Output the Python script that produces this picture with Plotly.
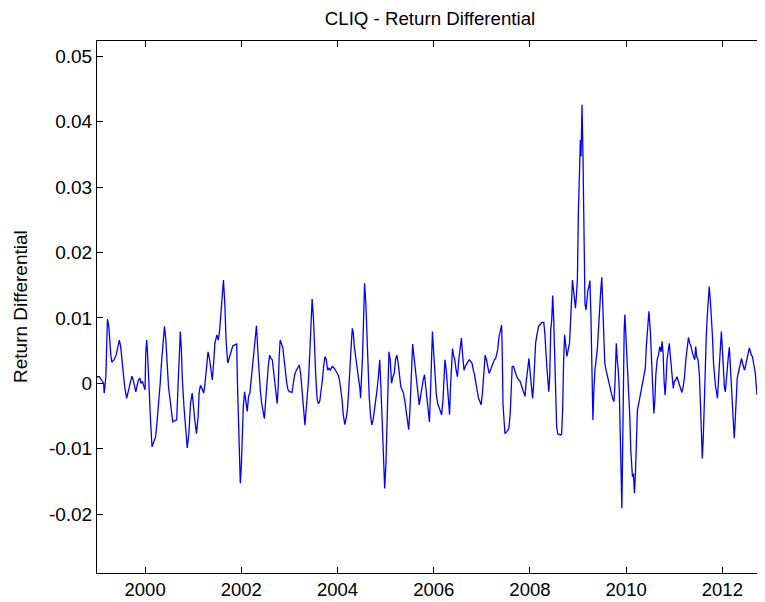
import plotly.graph_objects as go

# Fractional-year dates of the traced vertices and the return differential values
years = [
 1999.000,1999.047,1999.095,1999.136,1999.150,1999.184,1999.205,1999.218,1999.246,1999.260,
 1999.287,1999.308,1999.355,1999.397,1999.438,1999.465,1999.492,1999.520,1999.547,1999.575,
 1999.616,1999.657,1999.698,1999.725,1999.753,1999.780,1999.807,1999.835,1999.862,1999.890,
 1999.917,1999.944,1999.972,1999.999,2000.013,2000.034,2000.054,2000.081,2000.109,2000.143,
 2000.177,2000.218,2000.246,2000.280,2000.314,2000.342,2000.376,2000.403,2000.431,2000.451,
 2000.486,2000.520,2000.547,2000.575,2000.622,2000.657,2000.684,2000.712,2000.732,2000.753,
 2000.773,2000.808,2000.842,2000.876,2000.910,2000.944,2000.979,2000.999,2001.033,2001.068,
 2001.102,2001.122,2001.150,2001.184,2001.218,2001.246,2001.273,2001.308,2001.342,2001.369,
 2001.397,2001.424,2001.451,2001.492,2001.520,2001.547,2001.575,2001.602,2001.629,2001.657,
 2001.684,2001.718,2001.753,2001.787,2001.822,2001.876,2001.904,2001.918,2001.945,2001.966,
 2001.979,2002.000,2002.013,2002.041,2002.068,2002.096,2002.123,2002.150,2002.178,2002.205,
 2002.233,2002.260,2002.287,2002.315,2002.342,2002.370,2002.397,2002.424,2002.452,2002.479,
 2002.507,2002.534,2002.561,2002.589,2002.616,2002.644,2002.671,2002.698,2002.726,2002.746,
 2002.767,2002.787,2002.808,2002.835,2002.863,2002.890,2002.917,2002.945,2002.972,2002.999,
 2003.027,2003.054,2003.082,2003.109,2003.144,2003.178,2003.205,2003.233,2003.260,2003.288,
 2003.308,2003.322,2003.349,2003.376,2003.397,2003.417,2003.445,2003.472,2003.500,2003.520,
 2003.548,2003.575,2003.602,2003.630,2003.657,2003.685,2003.712,2003.739,2003.767,2003.794,
 2003.822,2003.849,2003.890,2003.931,2003.972,2004.013,2004.041,2004.068,2004.096,2004.116,
 2004.137,2004.150,2004.178,2004.205,2004.233,2004.260,2004.287,2004.308,2004.328,2004.349,
 2004.376,2004.411,2004.438,2004.465,2004.479,2004.500,2004.520,2004.541,2004.562,2004.589,
 2004.610,2004.630,2004.658,2004.685,2004.712,2004.740,2004.767,2004.795,2004.822,2004.849,
 2004.877,2004.904,2004.932,2004.959,2004.980,2005.007,2005.028,2005.048,2005.069,2005.096,
 2005.123,2005.151,2005.178,2005.206,2005.233,2005.260,2005.288,2005.315,2005.342,2005.370,
 2005.397,2005.425,2005.452,2005.480,2005.507,2005.534,2005.562,2005.589,2005.617,2005.644,
 2005.671,2005.699,2005.726,2005.753,2005.781,2005.808,2005.836,2005.863,2005.890,2005.911,
 2005.932,2005.952,2005.973,2006.000,2006.027,2006.055,2006.082,2006.110,2006.137,2006.164,
 2006.192,2006.212,2006.233,2006.260,2006.288,2006.315,2006.329,2006.349,2006.370,2006.390,
 2006.411,2006.438,2006.466,2006.493,2006.521,2006.548,2006.575,2006.603,2006.630,2006.658,
 2006.685,2006.712,2006.740,2006.767,2006.795,2006.822,2006.849,2006.877,2006.904,2006.932,
 2006.959,2006.986,2007.014,2007.041,2007.069,2007.096,2007.123,2007.151,2007.178,2007.206,
 2007.233,2007.260,2007.288,2007.329,2007.357,2007.384,2007.411,2007.425,2007.439,2007.466,
 2007.480,2007.521,2007.562,2007.590,2007.610,2007.631,2007.658,2007.685,2007.713,2007.740,
 2007.768,2007.795,2007.822,2007.850,2007.877,2007.898,2007.918,2007.939,2007.959,2007.980,
 2008.000,2008.028,2008.055,2008.076,2008.096,2008.117,2008.138,2008.158,2008.179,2008.206,
 2008.233,2008.261,2008.288,2008.309,2008.329,2008.350,2008.370,2008.391,2008.411,2008.432,
 2008.453,2008.473,2008.494,2008.514,2008.535,2008.555,2008.576,2008.603,2008.631,2008.658,
 2008.679,2008.699,2008.720,2008.740,2008.768,2008.795,2008.822,2008.843,2008.864,2008.884,
 2008.905,2008.925,2008.946,2008.966,2008.987,2009.007,2009.028,2009.048,2009.062,2009.083,
 2009.103,2009.124,2009.144,2009.165,2009.185,2009.206,2009.227,2009.247,2009.268,2009.288,
 2009.309,2009.329,2009.350,2009.377,2009.404,2009.432,2009.453,2009.473,2009.494,2009.514,
 2009.535,2009.555,2009.583,2009.610,2009.637,2009.665,2009.692,2009.720,2009.747,2009.768,
 2009.781,2009.795,2009.815,2009.836,2009.857,2009.870,2009.884,2009.898,2009.911,2009.925,
 2009.939,2009.959,2009.973,2009.994,2010.014,2010.035,2010.055,2010.076,2010.096,2010.131,
 2010.152,2010.172,2010.193,2010.213,2010.234,2010.261,2010.289,2010.316,2010.343,2010.371,
 2010.398,2010.419,2010.446,2010.473,2010.501,2010.528,2010.549,2010.576,2010.597,2010.617,
 2010.645,2010.672,2010.700,2010.727,2010.747,2010.768,2010.789,2010.809,2010.830,2010.850,
 2010.878,2010.898,2010.919,2010.939,2010.960,2010.980,2011.001,2011.028,2011.056,2011.083,
 2011.110,2011.138,2011.158,2011.186,2011.213,2011.241,2011.268,2011.295,2011.323,2011.350,
 2011.378,2011.405,2011.426,2011.446,2011.467,2011.494,2011.521,2011.542,2011.562,2011.583,
 2011.604,2011.624,2011.645,2011.665,2011.686,2011.706,2011.727,2011.754,2011.775,2011.795,
 2011.816,2011.836,2011.857,2011.878,2011.898,2011.919,2011.939,2011.960,2011.980,2012.001,
 2012.021,2012.042,2012.062,2012.083,2012.104,2012.124,2012.145,2012.165,2012.186,2012.206,
 2012.227,2012.247,2012.268,2012.289,2012.309,2012.330,2012.357,2012.378,2012.398,2012.419,
 2012.439,2012.460,2012.480,2012.501,2012.521,2012.542,2012.562,2012.583,2012.603,2012.624,
 2012.645,2012.665,2012.686,2012.700,2012.720,
]

return_diff = [
 0.0010,0.0010,0.0005,0.0000,-0.0015,0.0010,0.0066,0.0098,0.0087,0.0066,
 0.0043,0.0032,0.0036,0.0043,0.0059,0.0066,0.0056,0.0031,0.0010,-0.0005,
 -0.0023,-0.0010,0.0005,0.0011,0.0005,-0.0005,-0.0013,-0.0003,0.0005,0.0008,
 0.0000,0.0003,-0.0005,-0.0010,0.0046,0.0066,0.0041,-0.0015,-0.0051,-0.0097,
 -0.0089,-0.0082,-0.0061,-0.0033,0.0000,0.0033,0.0066,0.0087,0.0066,0.0031,
 -0.0005,-0.0026,-0.0048,-0.0059,-0.0057,-0.0056,-0.0005,0.0046,0.0079,0.0054,
 0.0008,-0.0036,-0.0071,-0.0099,-0.0077,-0.0031,-0.0015,-0.0036,-0.0056,-0.0077,
 -0.0051,-0.0015,-0.0003,-0.0008,-0.0015,0.0000,0.0026,0.0048,0.0036,0.0015,
 0.0005,0.0031,0.0061,0.0074,0.0066,0.0079,0.0107,0.0143,0.0158,0.0122,
 0.0064,0.0031,0.0041,0.0051,0.0057,0.0059,0.0060,0.0005,-0.0051,-0.0102,
 -0.0153,-0.0128,-0.0082,-0.0036,-0.0013,-0.0026,-0.0043,-0.0020,-0.0015,0.0005,
 0.0026,0.0048,0.0074,0.0088,0.0051,0.0015,-0.0013,-0.0031,-0.0043,-0.0054,
 -0.0026,0.0010,0.0026,0.0043,0.0038,0.0036,0.0015,-0.0005,-0.0018,-0.0031,
 -0.0005,0.0041,0.0066,0.0061,0.0054,0.0036,0.0015,0.0000,-0.0010,-0.0013,
 -0.0013,-0.0014,0.0000,0.0013,0.0020,0.0026,0.0028,0.0015,-0.0005,-0.0036,
 -0.0051,-0.0064,-0.0043,-0.0020,0.0005,0.0036,0.0092,0.0129,0.0099,0.0054,
 0.0010,-0.0023,-0.0031,-0.0028,-0.0015,0.0005,0.0026,0.0041,0.0036,0.0020,
 0.0023,0.0020,0.0026,0.0023,0.0018,0.0013,0.0005,-0.0008,-0.0026,-0.0046,
 -0.0056,-0.0063,-0.0054,-0.0041,-0.0010,0.0036,0.0061,0.0084,0.0077,0.0056,
 0.0041,0.0026,0.0013,-0.0008,-0.0023,0.0005,0.0041,0.0097,0.0153,0.0122,
 0.0071,0.0018,-0.0020,-0.0048,-0.0064,-0.0056,-0.0043,-0.0028,-0.0010,0.0010,
 0.0036,-0.0010,-0.0071,-0.0128,-0.0161,-0.0122,-0.0056,0.0015,0.0048,0.0036,
 0.0000,0.0010,0.0015,0.0036,0.0043,0.0031,0.0010,-0.0005,-0.0010,-0.0015,
 -0.0026,-0.0043,-0.0061,-0.0071,-0.0038,0.0026,0.0060,0.0041,0.0020,0.0005,
 -0.0010,-0.0033,-0.0020,-0.0005,0.0005,0.0013,-0.0005,-0.0026,-0.0038,-0.0059,
 -0.0015,0.0043,0.0079,0.0046,0.0005,-0.0018,-0.0031,-0.0038,-0.0043,-0.0048,
 -0.0026,0.0015,0.0036,0.0020,-0.0005,-0.0036,-0.0048,-0.0005,0.0026,0.0053,
 0.0043,0.0036,0.0020,0.0010,0.0036,0.0056,0.0069,0.0041,0.0020,0.0026,
 0.0031,0.0033,0.0036,0.0033,0.0031,0.0020,0.0013,0.0000,-0.0015,-0.0023,
 -0.0028,-0.0033,-0.0013,0.0018,0.0043,0.0036,0.0026,0.0015,0.0020,0.0026,
 0.0031,0.0036,0.0038,0.0051,0.0071,0.0082,0.0089,0.0046,-0.0031,-0.0061,
 -0.0077,-0.0074,-0.0069,-0.0046,0.0000,0.0026,0.0026,0.0018,0.0013,0.0008,
 0.0005,0.0003,-0.0003,-0.0010,-0.0015,-0.0020,0.0000,0.0015,0.0026,0.0038,
 0.0020,0.0000,-0.0023,-0.0003,0.0031,0.0061,0.0071,0.0082,0.0087,0.0089,
 0.0092,0.0093,0.0093,0.0077,0.0041,0.0026,0.0008,-0.0013,0.0010,0.0082,
 0.0097,0.0134,0.0097,0.0026,-0.0041,-0.0066,-0.0077,-0.0078,-0.0079,-0.0078,
 -0.0041,0.0031,0.0074,0.0061,0.0041,0.0051,0.0061,0.0092,0.0128,0.0158,
 0.0143,0.0128,0.0115,0.0133,0.0161,0.0263,0.0321,0.0372,0.0347,0.0426,
 0.0347,0.0184,0.0122,0.0112,0.0133,0.0143,0.0148,0.0157,0.0102,0.0000,
 -0.0056,-0.0010,0.0020,0.0036,0.0056,0.0092,0.0128,0.0143,0.0162,0.0122,
 0.0066,0.0031,0.0020,0.0010,0.0000,-0.0008,-0.0015,-0.0023,-0.0028,0.0000,
 0.0036,0.0061,0.0036,0.0020,-0.0010,-0.0066,-0.0117,-0.0148,-0.0191,-0.0112,
 0.0031,0.0082,0.0105,0.0077,0.0041,0.0020,-0.0010,-0.0051,-0.0102,-0.0143,
 -0.0138,-0.0168,-0.0138,-0.0077,-0.0041,-0.0031,-0.0020,-0.0013,-0.0003,0.0008,
 0.0023,0.0056,0.0089,0.0110,0.0082,0.0031,-0.0020,-0.0046,-0.0026,0.0013,
 0.0036,0.0043,0.0056,0.0048,0.0064,0.0046,0.0003,-0.0018,0.0005,0.0036,
 0.0051,0.0061,0.0041,0.0026,0.0005,-0.0008,0.0003,0.0005,0.0010,0.0003,
 -0.0003,-0.0008,-0.0014,-0.0005,0.0010,0.0036,0.0059,0.0070,0.0061,0.0056,
 0.0046,0.0041,0.0036,0.0056,0.0041,0.0036,0.0015,-0.0026,-0.0084,-0.0115,
 -0.0082,-0.0026,0.0026,0.0071,0.0102,0.0122,0.0148,0.0122,0.0099,0.0071,
 0.0031,0.0003,-0.0005,-0.0013,-0.0023,0.0005,0.0036,0.0061,0.0079,0.0051,
 0.0020,-0.0005,-0.0013,0.0010,0.0026,0.0041,0.0055,0.0031,-0.0010,-0.0036,
 -0.0061,-0.0084,-0.0056,-0.0015,0.0008,0.0015,0.0026,0.0036,0.0038,0.0031,
 0.0026,0.0020,0.0026,0.0036,0.0041,0.0048,0.0054,0.0048,0.0043,0.0041,
 0.0033,0.0020,0.0015,0.0000,-0.0018,
]

x_tick_vals = [2000, 2002, 2004, 2006, 2008, 2010, 2012]
x_tick_text = ["2000", "2002", "2004", "2006", "2008", "2010", "2012"]
y_tick_vals = [0.05, 0.04, 0.03, 0.02, 0.01, 0.0, -0.01, -0.02]
y_tick_text = ["0.05", "0.04", "0.03", "0.02", "0.01", "0", "-0.01", "-0.02"]

title_text = "CLIQ - Return Differential"
y_label = "Return Differential"

FONT = "Liberation Sans, Arial, sans-serif"

# The page body adds an 8 px margin; size the figure so it stays inside the visible page.
W, H = 749, 594
ML, MT, MB = 89, 33, 29
plot_w = W - ML

fig = go.Figure()
fig.add_trace(go.Scatter(
    x=years, y=return_diff, mode="lines",
    line=dict(color="#0000ff", width=1.3),
    hoverinfo="skip", showlegend=False,
))

fig.update_layout(
    width=W, height=H,
    margin=dict(l=ML, r=0, t=MT, b=MB, pad=0),
    paper_bgcolor="white", plot_bgcolor="white",
    font=dict(family=FONT, size=19, color="black"),
    title=dict(text=title_text, x=(430 - 97) / plot_w, xref="paper", y=1 - 10 / H, yref="container",
               xanchor="center", yanchor="middle", font=dict(family=FONT, size=18.7, color="black")),
    showlegend=False,
)
fig.update_xaxes(
    range=[1999.0, 2012.72], tickvals=x_tick_vals, ticktext=x_tick_text,
    ticks="inside", ticklen=6, tickcolor="black", tickwidth=1,
    showline=True, linecolor="black", linewidth=1, mirror="ticks",
    showgrid=False, zeroline=False, automargin=False,
    tickfont=dict(family=FONT, size=18.5, color="black"),
)
fig.update_yaxes(
    range=[-0.02901, 0.05234], tickvals=y_tick_vals, ticktext=y_tick_text,
    ticks="inside", ticklen=6, tickcolor="black", tickwidth=1,
    showline=True, linecolor="black", linewidth=1, mirror=False,
    showgrid=False, zeroline=False, automargin=False,
    tickfont=dict(family=FONT, size=19, color="black"),
)
fig.add_annotation(
    text=y_label, textangle=-90, xref="paper", yref="paper",
    x=(20 - 97) / plot_w, y=0.5, xanchor="center", yanchor="middle",
    showarrow=False, font=dict(family=FONT, size=19, color="black"),
)

fig.write_html("out.html")
